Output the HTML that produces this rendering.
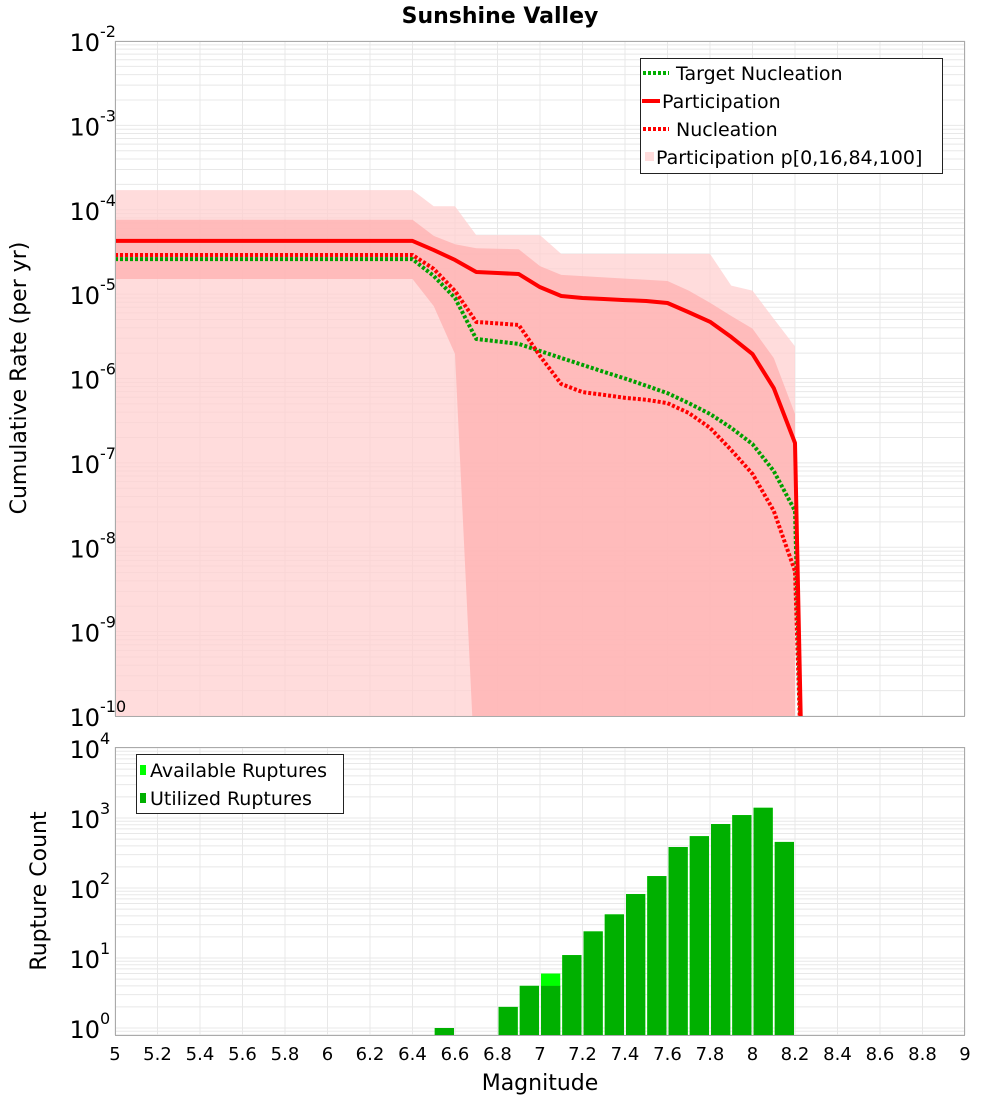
<!DOCTYPE html>
<html><head><meta charset="utf-8"><style>
html,body{margin:0;padding:0;background:#fff;width:1000px;height:1100px;overflow:hidden}
svg{display:block;font-family:"DejaVu Sans","Liberation Sans",sans-serif}
</style></head><body>
<svg id="chart" width="1000" height="1100" viewBox="0 0 1000 1100" xmlns="http://www.w3.org/2000/svg">
<text x="500" y="23" text-anchor="middle" font-size="22" font-weight="bold">Sunshine Valley</text>
<g id="topPanel"></g>
<g id="botPanel"></g>
<text transform="translate(26,378) rotate(-90)" text-anchor="middle" font-size="22">Cumulative Rate (per yr)</text>
<text transform="translate(46,891) rotate(-90)" text-anchor="middle" font-size="22">Rupture Count</text>
<text x="540" y="1090" text-anchor="middle" font-size="22">Magnitude</text>
<g>
<rect x="640.5" y="58.5" width="302" height="115" fill="#fff" stroke="#222" stroke-width="1"/>
<line x1="643" y1="73" x2="669" y2="73" stroke="#00b000" stroke-width="4" stroke-dasharray="3,2"/>
<text x="676" y="80" font-size="19">Target Nucleation</text>
<line x1="642" y1="101" x2="660" y2="101" stroke="#f00" stroke-width="4"/>
<text x="662" y="108" font-size="19">Participation</text>
<line x1="643" y1="129" x2="669" y2="129" stroke="#f00" stroke-width="4" stroke-dasharray="3,2"/>
<text x="676" y="136" font-size="19">Nucleation</text>
<rect x="645" y="152" width="9" height="9" fill="#ffdcdc"/>
<text x="656" y="164" font-size="19">Participation p[0,16,84,100]</text>
</g>
<g>
<rect x="136.5" y="754.5" width="207" height="59" fill="#fff" stroke="#222" stroke-width="1"/>
<rect x="140" y="765" width="6" height="10" fill="#00ff00"/>
<text x="150" y="777" font-size="19">Available Ruptures</text>
<rect x="140" y="793" width="6" height="10" fill="#00b000"/>
<text x="150" y="805" font-size="19">Utilized Ruptures</text>
</g>
</svg>
<script>
// ---- data ----
const lineMags = [5.0,6.4,6.5,6.6,6.7,6.8,6.9,7.0,7.1,7.2,7.3,7.4,7.5,7.6,7.7,7.8,7.9,8.0,8.1,8.2,8.235];
const participation = [4.27e-5,4.27e-5,3.33e-5,2.54e-5,1.83e-5,1.78e-5,1.73e-5,1.21e-5,9.5e-6,9.0e-6,8.75e-6,8.5e-6,8.3e-6,7.85e-6,6.1e-6,4.7e-6,3.1e-6,1.95e-6,7.7e-7,1.72e-7,1e-11];
const nucleation = [2.91e-5,2.91e-5,1.99e-5,1.09e-5,4.68e-6,4.5e-6,4.31e-6,1.85e-6,8.6e-7,6.9e-7,6.4e-7,5.9e-7,5.6e-7,5.1e-7,3.9e-7,2.6e-7,1.42e-7,7.4e-8,2.7e-8,5.2e-9,1e-11];
const targetNucleation = [2.6e-5,2.6e-5,1.64e-5,9.0e-6,2.94e-6,2.75e-6,2.57e-6,2.12e-6,1.75e-6,1.45e-6,1.2e-6,1.0e-6,8.2e-7,6.7e-7,5.1e-7,3.8e-7,2.6e-7,1.67e-7,8e-8,2.7e-8,1e-11];
const bandMags = [5.0,6.4,6.5,6.6,6.7,6.9,7.0,7.1,7.6,7.7,7.8,7.9,8.0,8.1,8.2];
const p100 = [1.71e-4,1.71e-4,1.1e-4,1.1e-4,5e-5,5e-5,5e-5,3e-5,3e-5,3e-5,3e-5,1.26e-5,1.1e-5,5.1e-6,2.4e-6];
const p84 = [7.6e-5,7.6e-5,4.9e-5,3.9e-5,3.5e-5,3.4e-5,2.15e-5,1.69e-5,1.43e-5,1.1e-5,7.9e-6,5.5e-6,3.9e-6,1.75e-6,3.8e-7];
const p16 = [1.51e-5,1.51e-5,7.2e-6,1.95e-6,1e-12,1e-12,1e-12,1e-12,1e-12,1e-12,1e-12,1e-12,1e-12,1e-12,1e-12];
const p0 = [1e-12,1e-12,1e-12,1e-12,1e-12,1e-12,1e-12,1e-12,1e-12,1e-12,1e-12,1e-12,1e-12,1e-12,1e-12];
const binCenters = [6.55,6.85,6.95,7.05,7.15,7.25,7.35,7.45,7.55,7.65,7.75,7.85,7.95,8.05,8.15];
const availableCounts = [1,2,4,6,11,24,42,82,148,385,550,820,1100,1400,455];
const utilizedCounts = [1,2,4,4,11,24,42,82,148,385,550,820,1100,1400,455];
const xTicks = ["5","5.2","5.4","5.6","5.8","6","6.2","6.4","6.6","6.8","7","7.2","7.4","7.6","7.8","8","8.2","8.4","8.6","8.8","9"];
const topExps = [-2,-3,-4,-5,-6,-7,-8,-9,-10];
const botExps = [4,3,2,1,0];

// ---- axes ----
const NS="http://www.w3.org/2000/svg";
const X0=115,X1=965;
const xs=m=>X0+(m-5)*(X1-X0)/4;
const TT=41,TB=716;
const yTop=v=>TT+(-2-Math.log10(v))*(TB-TT)/8;
const BT=747,BB=1035;
const yBot=v=>1028-Math.log10(v)*70;
function mk(tag,attrs,parent){const e=document.createElementNS(NS,tag);for(const k in attrs)e.setAttribute(k,attrs[k]);parent.appendChild(e);return e;}
const topG=document.getElementById('topPanel'),botG=document.getElementById('botPanel');
const svgEl=document.getElementById('chart');

function grid(g,t,b,ymap,eLo,eHi){
  for(let e=eLo;e<eHi;e++)for(let k=1;k<10;k++){
    const yy=ymap(k*Math.pow(10,e));
    if(yy<t||yy>b)continue;
    const l=mk('line',{x1:X0,x2:X1,y1:yy,y2:yy,stroke:'#e8e8e8','stroke-width':1},g);
    
    
  }
  for(let i=0;i<xTicks.length;i++){
    const xx=xs(parseFloat(xTicks[i]));
    const l=mk('line',{x1:xx,x2:xx,y1:t,y2:b,stroke:'#e8e8e8','stroke-width':1},g);
    
    
  }
}
mk('rect',{x:X0,y:TT,width:X1-X0,height:TB-TT,fill:'#fff'},topG);
grid(topG,TT,TB,yTop,-11,-1);
const clip=mk('clipPath',{id:'cl'},svgEl);
mk('rect',{x:X0,y:TT,width:X1-X0,height:TB-TT},clip);
const plot=mk('g',{'clip-path':'url(#cl)'},topG);

function band(up,lo,fill,name){
  let d='';
  for(let i=0;i<bandMags.length;i++)d+=(i?'L':'M')+xs(bandMags[i])+','+Math.min(yTop(up[i]),800);
  for(let i=bandMags.length-1;i>=0;i--)d+='L'+xs(bandMags[i])+','+Math.min(yTop(lo[i]),800);
  const p=mk('path',{d:d+'Z',fill:fill,'fill-opacity':0.75},plot);
  
  
}
band(p100,p0,'#ffd0d0','band-p0-p100');
band(p84,p16,'#ffb0b0','band-p16-p84');
function line(vals,stroke,dash,name){
  const pts=lineMags.map((m,i)=>xs(m)+','+Math.min(yTop(vals[i]),800)).join(' ');
  const a={points:pts,fill:'none',stroke:stroke,'stroke-width':4,'stroke-linejoin':'round'};
  if(dash)a['stroke-dasharray']=dash;
  const p=mk('polyline',a,plot);
  
  
}
line(targetNucleation,'#00a000','3,2','target-nucleation-line');
line(nucleation,'#ff0000','3,2','nucleation-line');
line(participation,'#ff0000',null,'participation-line');
mk('rect',{x:X0+0.5,y:TT+0.5,width:X1-X0-1,height:TB-TT,fill:'none',stroke:'#aaa'},topG);

// bottom panel
grid(botG,BT,BB,yBot,-1,5);
for(let i=0;i<binCenters.length;i++){
  const xa=xs(binCenters[i]-0.05)+1,w=xs(binCenters[i]+0.05)-xs(binCenters[i]-0.05)-2;
  const ya=yBot(availableCounts[i]);
  const r1=mk('rect',{x:xa,y:ya,width:w,height:BB-ya,fill:'#00ff00'},botG);
  
  
  const yu=yBot(utilizedCounts[i]);
  const r2=mk('rect',{x:xa,y:yu,width:w,height:BB-yu,fill:'#00b000'},botG);
  
  
}
mk('rect',{x:X0+0.5,y:BT+0.5,width:X1-X0-1,height:BB-BT,fill:'none',stroke:'#aaa'},botG);

// tick labels
function ylab(g,yy,e,name){
  const t=mk('text',{x:100,y:yy+10,'text-anchor':'end','font-size':24},g);
  t.textContent='10';
  
  
  const s=mk('text',{x:100,y:yy-4,'font-size':16},g);
  s.textContent=String(e);
  
  
}
topExps.forEach(e=>ylab(topG,yTop(Math.pow(10,e)),e,'top-y-tick-label'));
botExps.forEach(e=>ylab(botG,yBot(Math.pow(10,e)),e,'bottom-y-tick-label'));
xTicks.forEach(s=>{
  const t=mk('text',{x:xs(parseFloat(s)),y:1060,'text-anchor':'middle','font-size':18},botG);
  t.textContent=s;
  
  
});
</script>
</body></html>
